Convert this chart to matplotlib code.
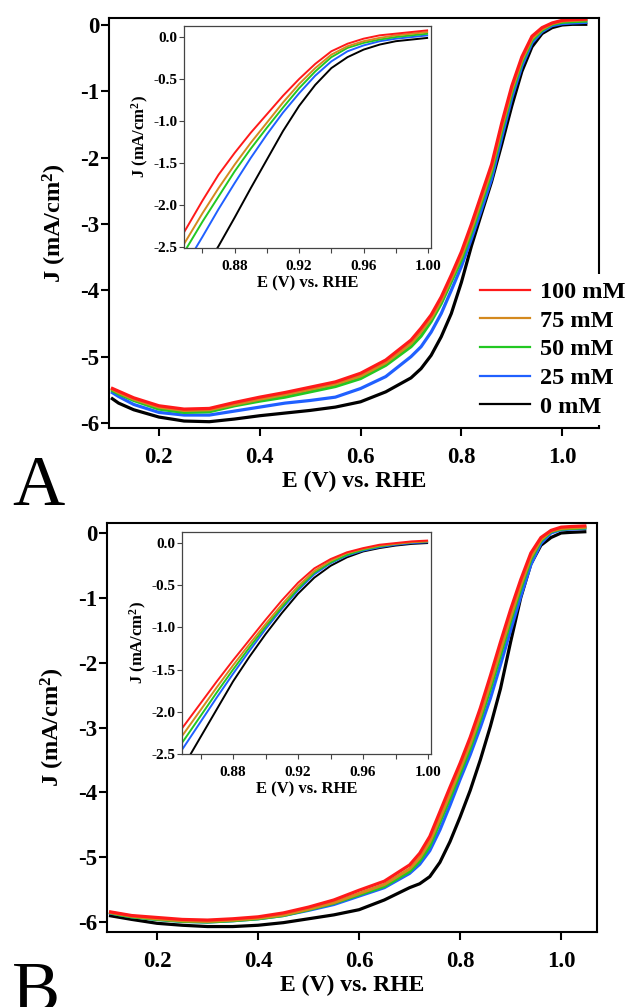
import matplotlib
matplotlib.use('Agg')
import matplotlib.pyplot as plt
from matplotlib.lines import Line2D
from matplotlib.ticker import FixedLocator, FixedFormatter

plt.rcParams['font.family'] = ['Liberation Serif', 'DejaVu Serif']
plt.rcParams['font.weight'] = 'bold'
plt.rcParams['axes.unicode_minus'] = False
plt.rcParams['mathtext.fontset'] = 'custom'
plt.rcParams['mathtext.rm'] = 'Liberation Serif:bold'
plt.rcParams['mathtext.it'] = 'Liberation Serif:bold'
plt.rcParams['mathtext.bf'] = 'Liberation Serif:bold'

# ---------------- data ----------------
LABELS = ['100 mM', '75 mM', '50 mM', '25 mM', '0 mM']
COLORS = ['#ff1a1a', '#d4891e', '#22c822', '#2060ff', '#000000']

E_MAIN = [0.105, 0.12, 0.15, 0.20, 0.25, 0.30, 0.35, 0.40, 0.45, 0.50, 0.55, 0.60, 0.65,
          0.70, 0.72, 0.74, 0.76, 0.78, 0.80, 0.82, 0.84, 0.86, 0.88, 0.90, 0.92, 0.94,
          0.96, 0.98, 1.00, 1.02, 1.05]
E_INSET = [0.845, 0.85, 0.86, 0.87, 0.88, 0.89, 0.90, 0.91, 0.92, 0.93, 0.94, 0.95,
           0.96, 0.97, 0.98, 0.99, 1.00]

# Panel A, main plot
A_100 = [-5.47, -5.52, -5.62, -5.74, -5.79, -5.78, -5.69, -5.61, -5.54, -5.46, -5.38, -5.25, -5.05,
         -4.75, -4.57, -4.37, -4.10, -3.77, -3.42, -3.00, -2.55, -2.10, -1.48, -0.92, -0.48, -0.17,
         -0.04, 0.03, 0.07, 0.08, 0.09]
A_75 = [-5.48, -5.54, -5.64, -5.76, -5.81, -5.80, -5.72, -5.64, -5.57, -5.49, -5.41, -5.29, -5.09,
        -4.80, -4.62, -4.42, -4.15, -3.82, -3.48, -3.07, -2.62, -2.16, -1.54, -0.97, -0.52, -0.20,
        -0.06, 0.02, 0.06, 0.07, 0.08]
A_50 = [-5.50, -5.56, -5.66, -5.79, -5.84, -5.83, -5.74, -5.67, -5.61, -5.53, -5.45, -5.33, -5.13,
        -4.85, -4.69, -4.47, -4.20, -3.87, -3.54, -3.13, -2.68, -2.22, -1.60, -1.02, -0.56, -0.23,
        -0.08, 0.01, 0.04, 0.05, 0.06]
A_25 = [-5.53, -5.60, -5.72, -5.84, -5.88, -5.88, -5.82, -5.76, -5.70, -5.66, -5.61, -5.48, -5.30,
        -5.00, -4.85, -4.63, -4.35, -4.00, -3.64, -3.22, -2.78, -2.32, -1.70, -1.10, -0.62, -0.27,
        -0.10, -0.01, 0.02, 0.03, 0.04]
A_0 = [-5.62, -5.70, -5.80, -5.91, -5.97, -5.98, -5.94, -5.89, -5.85, -5.81, -5.76, -5.68, -5.53,
       -5.32, -5.18, -4.98, -4.70, -4.35, -3.88, -3.33, -2.84, -2.36, -1.80, -1.22, -0.70, -0.33,
       -0.13, -0.04, 0.00, 0.01, 0.01]

# Panel A, inset
AI_100 = [-2.44, -2.28, -1.95, -1.64, -1.38, -1.14, -0.92, -0.70, -0.50, -0.32, -0.17, -0.08,
          -0.02, 0.02, 0.04, 0.06, 0.08]
AI_75 = [-2.58, -2.42, -2.10, -1.80, -1.52, -1.26, -1.02, -0.78, -0.56, -0.37, -0.21, -0.11,
         -0.05, -0.01, 0.02, 0.04, 0.06]
AI_50 = [-2.68, -2.52, -2.20, -1.90, -1.60, -1.33, -1.08, -0.84, -0.61, -0.41, -0.24, -0.13,
         -0.07, -0.03, 0.00, 0.02, 0.04]
AI_25 = [-2.86, -2.70, -2.38, -2.05, -1.74, -1.44, -1.16, -0.90, -0.67, -0.46, -0.29, -0.17,
         -0.10, -0.05, -0.02, 0.00, 0.02]
AI_0 = [-3.25, -3.10, -2.80, -2.49, -2.15, -1.80, -1.46, -1.12, -0.82, -0.57, -0.37, -0.24,
        -0.15, -0.09, -0.05, -0.03, -0.01]

# Panel B, main plot
B_100 = [-5.84, -5.86, -5.90, -5.93, -5.96, -5.97, -5.95, -5.92, -5.86, -5.77, -5.66, -5.51, -5.37,
         -5.12, -4.94, -4.68, -4.30, -3.92, -3.55, -3.15, -2.70, -2.20, -1.68, -1.18, -0.72, -0.31,
         -0.07, 0.04, 0.09, 0.10, 0.11]
B_75 = [-5.85, -5.87, -5.91, -5.95, -5.98, -5.99, -5.97, -5.94, -5.89, -5.80, -5.70, -5.56, -5.42,
        -5.18, -5.01, -4.76, -4.40, -4.02, -3.64, -3.25, -2.81, -2.32, -1.80, -1.29, -0.80, -0.37,
        -0.10, 0.03, 0.07, 0.08, 0.09]
B_50 = [-5.85, -5.88, -5.92, -5.96, -5.99, -6.00, -5.98, -5.95, -5.90, -5.81, -5.71, -5.58, -5.45,
        -5.22, -5.06, -4.83, -4.46, -4.09, -3.71, -3.32, -2.88, -2.40, -1.88, -1.36, -0.86, -0.41,
        -0.12, 0.02, 0.06, 0.07, 0.08]
B_25 = [-5.86, -5.88, -5.92, -5.96, -5.99, -6.00, -5.98, -5.95, -5.90, -5.82, -5.73, -5.60, -5.47,
        -5.25, -5.11, -4.90, -4.58, -4.20, -3.80, -3.42, -3.00, -2.55, -2.03, -1.50, -0.98, -0.49,
        -0.16, 0.00, 0.05, 0.06, 0.07]
B_0 = [-5.90, -5.92, -5.96, -6.02, -6.05, -6.07, -6.07, -6.05, -6.01, -5.95, -5.89, -5.81, -5.66,
       -5.47, -5.41, -5.30, -5.08, -4.76, -4.38, -3.97, -3.50, -2.98, -2.40, -1.68, -1.00, -0.48,
       -0.19, -0.07, 0.00, 0.01, 0.02]

# Panel B, inset
BI_100 = [-2.29, -2.16, -1.90, -1.64, -1.39, -1.15, -0.91, -0.68, -0.47, -0.30, -0.19, -0.11,
          -0.06, -0.02, 0.00, 0.02, 0.03]
BI_75 = [-2.38, -2.25, -1.98, -1.71, -1.45, -1.20, -0.96, -0.73, -0.51, -0.33, -0.21, -0.12,
         -0.07, -0.03, -0.01, 0.01, 0.02]
BI_50 = [-2.46, -2.33, -2.05, -1.77, -1.50, -1.24, -0.99, -0.76, -0.54, -0.35, -0.23, -0.14,
         -0.08, -0.04, -0.01, 0.01, 0.02]
BI_25 = [-2.55, -2.41, -2.12, -1.83, -1.55, -1.28, -1.02, -0.78, -0.56, -0.37, -0.24, -0.15,
         -0.09, -0.05, -0.02, 0.00, 0.01]
BI_0 = [-2.78, -2.63, -2.30, -1.97, -1.64, -1.35, -1.08, -0.83, -0.60, -0.41, -0.27, -0.17,
        -0.10, -0.06, -0.03, -0.01, 0.00]

MAIN_XTICKS = [0.2, 0.4, 0.6, 0.8, 1.0]
MAIN_XTICKLABELS = ['0.2', '0.4', '0.6', '0.8', '1.0']
MAIN_YTICKS = [0, -1, -2, -3, -4, -5, -6]
MAIN_YTICKLABELS = ['0', '-1', '-2', '-3', '-4', '-5', '-6']
INSET_XTICKS = [0.88, 0.92, 0.96, 1.00]
INSET_XTICKLABELS = ['0.88', '0.92', '0.96', '1.00']
INSET_XMINOR = [0.86, 0.90, 0.94, 0.98]
INSET_YTICKS = [0.0, -0.5, -1.0, -1.5, -2.0, -2.5]
INSET_YTICKLABELS = ['0.0', '-0.5', '-1.0', '-1.5', '-2.0', '-2.5']

# ---------------- layout ----------------
W, H = 629, 1007
fig = plt.figure(figsize=(W / 100, H / 100), dpi=100)


def rect(l, t, r, b):
    return [l / W, 1 - b / H, (r - l) / W, (b - t) / H]


def style_main(ax, xlim, ylim):
    ax.set_xlim(*xlim)
    ax.set_ylim(*ylim)
    for s in ax.spines.values():
        s.set_linewidth(1.5)
        s.set_color('black')
    ax.xaxis.set_major_locator(FixedLocator(MAIN_XTICKS))
    ax.xaxis.set_major_formatter(FixedFormatter(MAIN_XTICKLABELS))
    ax.yaxis.set_major_locator(FixedLocator(MAIN_YTICKS))
    ax.yaxis.set_major_formatter(FixedFormatter(MAIN_YTICKLABELS))
    ax.tick_params(axis='both', direction='out', length=6, width=1.5, labelsize=16.5)
    ax.tick_params(axis='x', pad=8)
    ax.tick_params(axis='y', pad=1)
    ax.set_xlabel('E (V) vs. RHE', fontsize=17, fontweight='bold', labelpad=2)
    ax.set_ylabel('J (mA/cm$^2$)', fontsize=17.5, fontweight='bold', labelpad=8)


def style_inset(ax, xlim, ylim):
    ax.set_xlim(*xlim)
    ax.set_ylim(*ylim)
    for s in ax.spines.values():
        s.set_linewidth(0.9)
        s.set_color('#444444')
    ax.xaxis.set_major_locator(FixedLocator(INSET_XTICKS))
    ax.xaxis.set_major_formatter(FixedFormatter(INSET_XTICKLABELS))
    ax.xaxis.set_minor_locator(FixedLocator(INSET_XMINOR))
    ax.yaxis.set_major_locator(FixedLocator(INSET_YTICKS))
    ax.yaxis.set_major_formatter(FixedFormatter(INSET_YTICKLABELS))
    ax.tick_params(axis='both', which='both', direction='out', length=3.5, width=0.8,
                   labelsize=11, color='#444444')
    ax.tick_params(axis='x', pad=5)
    ax.tick_params(axis='y', pad=1)
    ax.set_xlabel('E (V) vs. RHE', fontsize=12, fontweight='bold', labelpad=2)
    ax.set_ylabel('J (mA/cm$^2$)', fontsize=12, fontweight='bold', labelpad=2)


def draw(ax, x, series, lw):
    for ys, c in reversed(list(zip(series, COLORS))):
        ax.plot(x, ys, color=c, lw=lw, solid_capstyle='butt', solid_joinstyle='round')


# Panel A
axA = fig.add_axes(rect(109, 18, 599, 428))
draw(axA, E_MAIN, [A_100, A_75, A_50, A_25, A_0], 2.3)
style_main(axA, (0.101, 1.073), (-6.075, 0.105))
insA = fig.add_axes(rect(184, 26, 431, 248))
draw(insA, E_INSET, [AI_100, AI_75, AI_50, AI_25, AI_0], 1.4)
style_inset(insA, (0.8486, 1.0018), (-2.512, 0.131))

# Panel B
axB = fig.add_axes(rect(107, 523, 597, 932))
draw(axB, E_MAIN, [B_100, B_75, B_50, B_25, B_0], 2.3)
style_main(axB, (0.101, 1.071), (-6.154, 0.154))
insB = fig.add_axes(rect(182, 532, 431, 754))
draw(insB, E_INSET, [BI_100, BI_75, BI_50, BI_25, BI_0], 1.4)
style_inset(insB, (0.8486, 1.0018), (-2.50, 0.131))

# Legend (panel A), opaque so it hides the right spine
handles = [Line2D([], [], color=c, lw=1.6) for c in COLORS]
leg = fig.legend(handles, LABELS, loc='upper left', bbox_to_anchor=(473 / W, 1 - 274 / H),
                 bbox_transform=fig.transFigure, frameon=True, fancybox=False,
                 facecolor='white', edgecolor='none', framealpha=1.0,
                 prop={'family': 'Liberation Serif', 'weight': 'bold', 'size': 17.5},
                 handlelength=2.05, handletextpad=0.42, labelspacing=0.27,
                 borderpad=0.3, borderaxespad=0)

# Panel letters
fig.text(12 / W, 1 - 505 / H, 'A', fontsize=52, fontweight='normal', family='Liberation Serif',
         va='baseline', ha='left')
fig.text(12 / W, 1 - 1011 / H, 'B', fontsize=52, fontweight='normal', family='Liberation Serif',
         va='baseline', ha='left')

fig.savefig('out.png', dpi=100)
